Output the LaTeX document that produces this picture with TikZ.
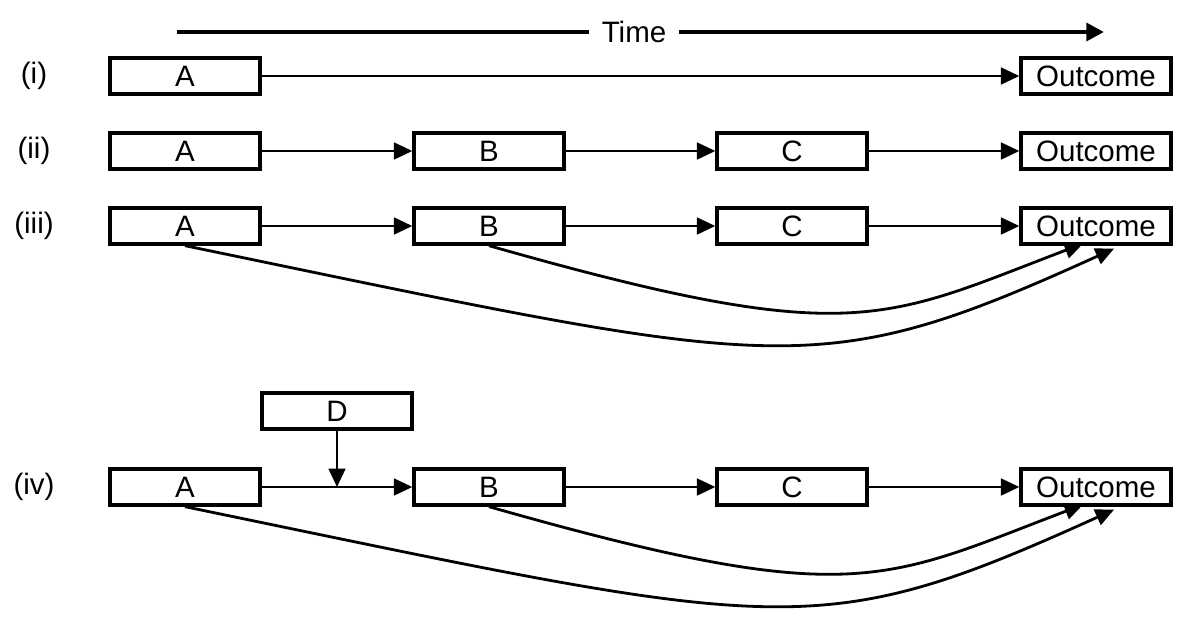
\documentclass[tikz,border=0pt]{standalone}
\usepackage{fontspec}
\setmainfont{Liberation Sans}
\usepackage{tikz}
\usetikzlibrary{arrows.meta}
\tikzset{
    stagebox/.style={draw, line width=1.9pt, minimum width=3.0cm, minimum height=0.72cm, inner sep=0pt, font=\fontsize{16.8}{19}\selectfont},
    rowlabel/.style={font=\fontsize{16.8}{19}\selectfont},
    link/.style={line width=1.6pt, -{Triangle[length=10.5pt,width=9.5pt]}},
    timeline/.style={line width=2.4pt, -{Triangle[length=10pt,width=10pt]}}
}

\begin{document}
\begin{tikzpicture}[x=0.02cm, y=-0.02cm]
    \useasboundingbox (0,0) rectangle (1200,622);
    % time axis
    \coordinate (t0) at (177,32);
    \coordinate (t1) at (1104,32);
    \draw[timeline] (t0) -- node[pos=0.493, fill=white, inner sep=7pt, font=\fontsize{16.8}{19}\selectfont] (time) {Time} (t1);
    % row labels
    \node[rowlabel] (li)   at (34,76)  {(i)};
    \node[rowlabel] (lii)  at (34,151) {(ii)};
    \node[rowlabel] (liii) at (34,226) {(iii)};
    \node[rowlabel] (liv)  at (34,487) {(iv)};
    % (i)
    \node[stagebox] (a1) at (185,76)  {A};
    \node[stagebox] (o1) at (1096,76) {Outcome};
    \draw[link] (a1) -- (o1);
    % (ii)
    \node[stagebox] (a2) at (185,151)  {A};
    \node[stagebox] (b2) at (489,151)  {B};
    \node[stagebox] (c2) at (792,151)  {C};
    \node[stagebox] (o2) at (1096,151) {Outcome};
    \draw[link] (a2) -- (b2);
    \draw[link] (b2) -- (c2);
    \draw[link] (c2) -- (o2);
    % (iii)
    \node[stagebox] (a3) at (185,226)  {A};
    \node[stagebox] (b3) at (489,226)  {B};
    \node[stagebox] (c3) at (792,226)  {C};
    \node[stagebox] (o3) at (1096,226) {Outcome};
    \draw[link] (a3) -- (b3);
    \draw[link] (b3) -- (c3);
    \draw[link] (c3) -- (o3);
    \draw[link] (b3.south) .. controls +(365,104) and +(-200,76) .. ([xshift=-0.26cm,yshift=0.04cm]o3.south);
    \draw[link] (a3.south) .. controls +(600,124) and +(-300,136) .. ([xshift=0.36cm,yshift=-0.06cm]o3.south);
    % (iv)
    \node[stagebox] (d4) at (337,411)  {D};
    \node[stagebox] (a4) at (185,487)  {A};
    \node[stagebox] (b4) at (489,487)  {B};
    \node[stagebox] (c4) at (792,487)  {C};
    \node[stagebox] (o4) at (1096,487) {Outcome};
    \draw[link] (a4) -- (b4);
    \draw[link] (b4) -- (c4);
    \draw[link] (c4) -- (o4);
    \draw[link] (d4.south) -- (d4.south |- a4.east);
    \draw[link] (b4.south) .. controls +(365,104) and +(-200,76) .. ([xshift=-0.26cm,yshift=0.04cm]o4.south);
    \draw[link] (a4.south) .. controls +(600,124) and +(-300,136) .. ([xshift=0.36cm,yshift=-0.06cm]o4.south);
\end{tikzpicture}
\end{document}
